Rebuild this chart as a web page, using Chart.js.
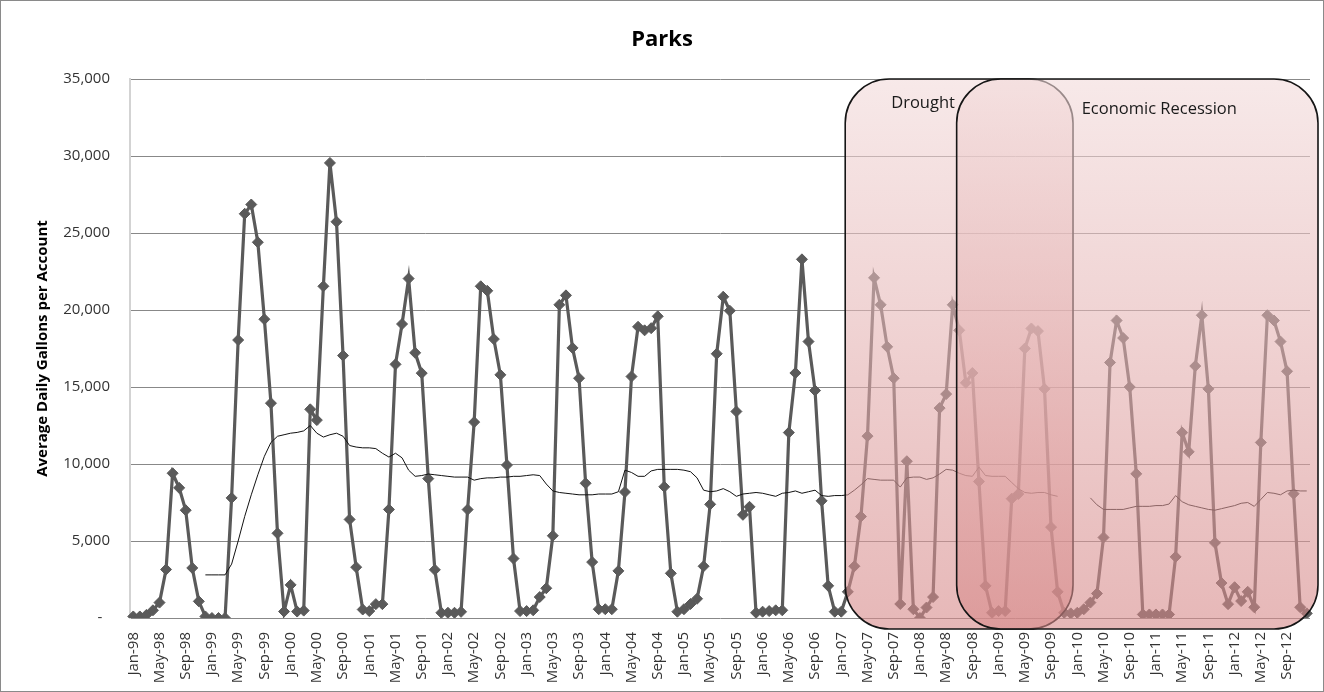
<!DOCTYPE html>
<html>
<head>
<meta charset="utf-8">
<title>Parks</title>
<script src="https://cdn.jsdelivr.net/npm/chart.js@4.4.1/dist/chart.umd.min.js"></script>
<style>
  html, body { margin: 0; padding: 0; background: #ffffff; }
  canvas { display: block; }
</style>
</head>
<body>
<canvas id="parksChart" width="1324" height="692"></canvas>
<script>
// Month categories, Jan-98 .. Dec-12
const monthNames = ['Jan','Feb','Mar','Apr','May','Jun','Jul','Aug','Sep','Oct','Nov','Dec'];
const yearCodes = ['98','99','00','01','02','03','04','05','06','07','08','09','10','11','12'];
const monthLabels = yearCodes.flatMap(y => monthNames.map(m => m + '-' + y));

// Average daily gallons per park account, by month
const use1998 = [100, 100, 200, 500, 1000, 3150, 9400, 8450, 7000, 3250, 1080, 100];
const use1999 = [0, 0, 0, 7800, 18050, 26250, 26850, 24400, 19400, 13950, 5500, 420];
const use2000 = [2150, 420, 480, 13550, 12850, 21540, 29550, 25730, 17040, 6400, 3300, 550];
const use2001 = [450, 900, 900, 7050, 16470, 19090, 22040, 17220, 15900, 9050, 3130, 340];
const use2002 = [340, 340, 400, 7040, 12720, 21540, 21250, 18110, 15790, 9930, 3860, 450];
const use2003 = [450, 500, 1360, 1930, 5340, 20340, 20950, 17540, 15570, 8750, 3630, 570];
const use2004 = [570, 570, 3060, 8180, 15680, 18910, 18680, 18820, 19590, 8520, 2900, 410];
const use2005 = [570, 910, 1250, 3360, 7380, 17160, 20860, 19950, 13410, 6700, 7220, 340];
const use2006 = [410, 450, 500, 500, 12040, 15910, 23290, 17950, 14770, 7610, 2090, 410];
const use2007 = [410, 1700, 3360, 6590, 11810, 22090, 20340, 17610, 15570, 910, 10180, 570];
const use2008 = [0, 680, 1360, 13630, 14540, 20340, 18680, 15270, 15910, 8860, 2090, 340];
const use2009 = [450, 450, 7750, 8050, 17500, 18800, 18630, 14880, 5900, 1700, 340, 300];
const use2010 = [340, 570, 1000, 1590, 5230, 16590, 19320, 18180, 15000, 9360, 230, 230];
const use2011 = [230, 230, 230, 3970, 12040, 10790, 16360, 19660, 14880, 4880, 2270, 900];
const use2012 = [2000, 1100, 1700, 700, 11400, 19660, 19320, 17950, 16020, 8070, 700, 300];

// Twelve-month running average (thin line)
const avg1998 = [null, null, null, null, null, null, null, null, null, null, null, 2800];
const avg1999 = [2800, 2800, 2800, 3500, 5000, 6600, 8000, 9300, 10500, 11400, 11800, 11900];
const avg2000 = [12000, 12050, 12150, 12500, 12000, 11750, 11900, 12000, 11800, 11200, 11100, 11050];
const avg2001 = [11050, 11000, 10700, 10450, 10700, 10400, 9600, 9200, 9250, 9350, 9300, 9250];
const avg2002 = [9200, 9150, 9150, 9150, 8950, 9050, 9100, 9100, 9150, 9150, 9200, 9200];
const avg2003 = [9250, 9300, 9250, 8700, 8250, 8150, 8100, 8050, 8000, 8000, 8000, 8050];
const avg2004 = [8050, 8050, 8200, 9600, 9450, 9200, 9200, 9550, 9650, 9650, 9650, 9650];
const avg2005 = [9600, 9500, 9100, 8300, 8200, 8250, 8400, 8200, 7900, 8050, 8100, 8150];
const avg2006 = [8100, 8000, 7900, 8100, 8150, 8250, 8100, 8200, 8300, 7950, 7900, 7950];
const avg2007 = [7950, 8000, 8300, 8650, 9050, 9000, 8950, 8950, 8950, 8500, 9100, 9150];
const avg2008 = [9150, 9000, 9100, 9350, 9650, 9600, 9400, 9250, 9200, 9800, 9250, 9200];
const avg2009 = [9200, 9200, 8800, 8400, 8150, 8100, 8150, 8150, 8000, 7900, null, null];
const avg2010 = [null, null, 7800, 7350, 7050, 7050, 7050, 7050, 7150, 7250, 7250, 7250];
const avg2011 = [7300, 7300, 7400, 7950, 7550, 7350, 7250, 7150, 7050, 7000, 7100, 7200];
const avg2012 = [7300, 7450, 7500, 7250, 7700, 8150, 8100, 8000, 8250, 8300, 8250, 8250];

const parksUsage = [].concat(use1998, use1999, use2000, use2001, use2002, use2003, use2004,
  use2005, use2006, use2007, use2008, use2009, use2010, use2011, use2012);
const runningAvg = [].concat(avg1998, avg1999, avg2000, avg2001, avg2002, avg2003, avg2004,
  avg2005, avg2006, avg2007, avg2008, avg2009, avg2010, avg2011, avg2012);

// Value axis ticks
const yTicks = [0, 5000, 10000, 15000, 20000, 25000, 30000, 35000];

// Highlighted periods
const periodNames = ['Drought', 'Economic Recession'];
const periodFrom = ['Feb-07', 'Jul-08'];
const periodTo = ['Dec-09', 'Dec-12'];

const FONT = "'Open Sans', 'DejaVu Sans', sans-serif";

function roundedRect(ctx, x, y, w, h, r) {
  ctx.beginPath();
  ctx.moveTo(x + r, y);
  ctx.arcTo(x + w, y, x + w, y + h, r);
  ctx.arcTo(x + w, y + h, x, y + h, r);
  ctx.arcTo(x, y + h, x, y, r);
  ctx.arcTo(x, y, x + w, y, r);
  ctx.closePath();
}

function periodBoxes(chart) {
  const { chartArea: a, scales: { x } } = chart;
  const step = x.getPixelForValue(1) - x.getPixelForValue(0);
  return periodNames.map((name, k) => {
    const i0 = monthLabels.indexOf(periodFrom[k]);
    const i1 = monthLabels.indexOf(periodTo[k]);
    const left = x.getPixelForValue(i0) - 0.4 * step;
    const right = i1 === monthLabels.length - 1 ? a.right + 8 : x.getPixelForValue(i1) + 0.35 * step;
    return { name, left, right, top: a.top, bottom: a.bottom + 11 };
  });
}

// Shaded rounded boxes laid over the series, plus their captions
const periodPlugin = {
  id: 'periodPlugin',
  afterDatasetsDraw(chart) {
    const ctx = chart.ctx;
    ctx.save();
    periodBoxes(chart).forEach(b => {
      const g = ctx.createLinearGradient(0, b.top, 0, b.bottom);
      g.addColorStop(0, 'rgba(242,218,218,0.6)');
      g.addColorStop(1, 'rgba(214,136,136,0.6)');
      roundedRect(ctx, b.left, b.top, b.right - b.left, b.bottom - b.top, 44);
      ctx.fillStyle = g;
      ctx.fill();
      ctx.lineWidth = 1.6;
      ctx.strokeStyle = '#151515';
      ctx.stroke();
    });
    ctx.restore();
  },
  afterDraw(chart) {
    const ctx = chart.ctx;
    const boxes = periodBoxes(chart);
    const captionDx = [46, 125];
    const captionDy = [24, 30];
    ctx.save();
    ctx.fillStyle = '#1a1a1a';
    ctx.font = '16.5px ' + FONT;
    ctx.textAlign = 'left';
    ctx.textBaseline = 'middle';
    boxes.forEach((b, k) => ctx.fillText(b.name, b.left + captionDx[k], b.top + captionDy[k]));

    // chart title
    ctx.font = 'bold 22px ' + FONT;
    ctx.textAlign = 'center';
    ctx.fillStyle = '#000000';
    ctx.fillText('Parks', chart.width / 2, 40);

    // value axis title
    const a = chart.chartArea;
    ctx.translate(43, (a.top + a.bottom) / 2);
    ctx.rotate(-Math.PI / 2);
    ctx.font = 'bold 15px ' + FONT;
    ctx.fillText('Average Daily Gallons per Account', 0, 0);
    ctx.restore();

    // outer frame
    ctx.save();
    ctx.strokeStyle = '#8a8a8a';
    ctx.lineWidth = 1;
    ctx.strokeRect(0.5, 0.5, chart.width - 1, chart.height - 1);
    ctx.restore();
  }
};

new Chart(document.getElementById('parksChart').getContext('2d'), {
  type: 'line',
  data: {
    labels: monthLabels,
    datasets: [
      {
        label: 'Twelve-month average',
        data: runningAvg,
        borderColor: '#111111',
        borderWidth: 1,
        pointRadius: 0,
        spanGaps: false,
        tension: 0,
        order: 1
      },
      {
        label: 'Parks',
        data: parksUsage,
        borderColor: '#5a5a5a',
        backgroundColor: '#5a5a5a',
        borderWidth: 3.2,
        pointStyle: 'rectRot',
        pointRadius: 5.5,
        pointBorderWidth: 1,
        pointBorderColor: '#5a5a5a',
        pointBackgroundColor: '#5a5a5a',
        tension: 0,
        order: 2
      }
    ]
  },
  options: {
    responsive: false,
    animation: false,
    events: [],
    layout: { padding: { top: 79, right: 14, bottom: 0, left: 0 } },
    plugins: {
      legend: { display: false },
      title: { display: false },
      tooltip: { enabled: false }
    },
    scales: {
      x: {
        offset: true,
        grid: { display: false },
        border: { display: false },
        ticks: {
          autoSkip: false,
          maxRotation: 90,
          minRotation: 90,
          padding: 6,
          color: '#333333',
          font: { family: FONT, size: 15 },
          callback: (v, i) => (i % 4 === 0 ? monthLabels[i] : '')
        },
        afterFit: s => { s.height = 74; s.paddingLeft = 0; s.paddingRight = 0; }
      },
      y: {
        min: yTicks[0],
        max: yTicks[yTicks.length - 1],
        afterBuildTicks: s => { s.ticks = yTicks.map(v => ({ value: v })); },
        grid: { color: '#888888', lineWidth: 1, drawTicks: false },
        border: { display: true, color: '#d3d3d3', width: 2 },
        ticks: {
          padding: 20,
          color: '#333333',
          font: { family: FONT, size: 15 },
          callback: v => (v === 0 ? '-  ' : v.toLocaleString('en-US'))
        },
        afterFit: s => { s.width = 130; s.paddingTop = 0; s.paddingBottom = 0; }
      }
    }
  },
  plugins: [periodPlugin]
});
</script>
</body>
</html>
